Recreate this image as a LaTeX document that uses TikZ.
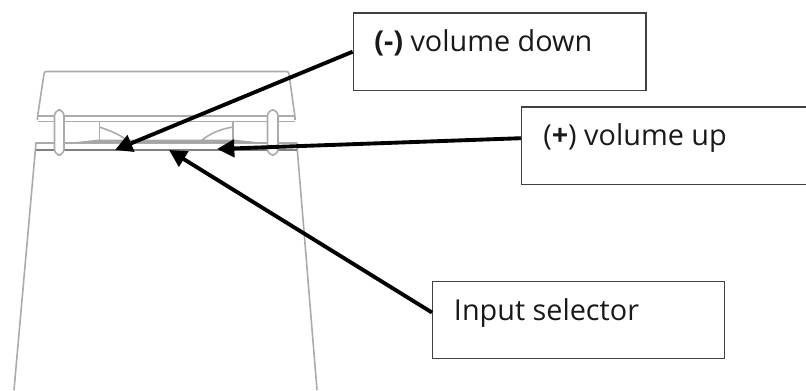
\documentclass[tikz,border=0pt]{standalone}
\usepackage{fontspec}
\setmainfont{Open Sans}
\usetikzlibrary{arrows.meta}
\tikzset{
 callout/.style={draw=black!75,line width=1.1pt,rectangle,inner sep=0pt},
 calltext/.style={anchor=base west,inner sep=0pt,font=\fontsize{21.6pt}{26pt}\selectfont,text=black!90},
 lead/.style={line width=2.9pt,draw=black,-{Triangle[length=13pt,width=13pt]}},
 dev/.style={draw=black!33,line width=1.2pt,line join=round},
 devd/.style={draw=black!50,line width=1.2pt},
}
\begin{document}
\begin{tikzpicture}[x=0.75pt,y=-0.75pt]
\useasboundingbox (0,0) rectangle (806,390);
% device: lid
\draw[dev] (37.5,120) -- (37.5,117) -- (44,74) .. controls (44,72) and (45,71.5) .. (47,71.5) -- (286,71.5) .. controls (288,71.5) and (288.5,72) .. (289,74) -- (295,117) -- (295,120);
\draw[dev] (38,116) -- (295,116);
\draw[dev] (38,121.5) -- (295,121.5);
% device: body
\draw[dev] (14,390) -- (35.7,146) -- (35.7,143) -- (297,143) -- (297,146) -- (317,390);
\draw[devd] (35.7,150) -- (297,150);
% hinge
\draw[dev] (99.3,121) -- (99.3,141);
\draw[dev] (232.7,121) -- (232.7,141);
\draw[dev] (99,127) .. controls (112,131) and (122,136) .. (128,141);
\draw[dev] (233,127) .. controls (220,129) and (209,134) .. (201,141);
\fill[black!35] (68,143) -- (99,139.5) -- (233,139.5) -- (266,143) -- cycle;
% posts
\draw[dev,fill=white,rounded corners=4.5pt] (54.5,110) rectangle (64,155);
\draw[dev,fill=white,rounded corners=4.5pt] (267.5,110) rectangle (278,155);
% boxes
\node[callout,minimum width=219.5pt,minimum height=58pt] (down) at (499.7,51.7) {};
\node[callout,minimum width=213.4pt,minimum height=58pt] (up) at (664,145.7) {};
\node[callout,minimum width=219pt,minimum height=57.75pt] (sel) at (578.7,320.2) {};
\node[calltext] (downt) at (374,51.7) {\textbf{(-)} volume down};
\node[calltext] (upt) at (543,145.7) {(\textbf{+}) volume up};
\node[calltext] (selt) at (453.7,320) {Input selector};
% leaders
\coordinate (tipd) at (115,150);
\coordinate (tipu) at (217,149);
\coordinate (tips) at (169,150);
\draw[lead] (down.west) -- (tipd);
\draw[lead] (up.177.4) -- (tipu);
\draw[lead] (sel.177.2) -- (tips);
\end{tikzpicture}
\end{document}
